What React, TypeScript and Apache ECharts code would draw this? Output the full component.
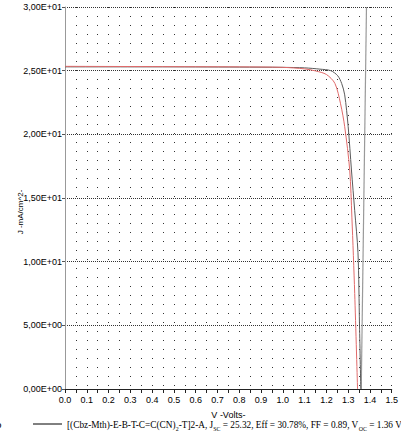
import React, { useEffect, useRef } from "react";
import * as echarts from "echarts";

const voltsRed: number[] = [0, 0.2, 0.4, 0.6, 0.8, 1.0, 1.1, 1.15, 1.2, 1.239, 1.265, 1.284, 1.307, 1.317, 1.33, 1.343];
const currentRed: number[] = [25.34, 25.33, 25.32, 25.31, 25.3, 25.26, 25.14, 24.98, 24.7, 24.0, 22.4, 20.6, 17.2, 13.5, 7.5, 0];

const voltsDark: number[] = [0, 0.4, 0.8, 1.0, 1.1, 1.17, 1.22, 1.252, 1.27, 1.284, 1.3, 1.315, 1.33, 1.345, 1.352, 1.358];
const currentDark: number[] = [25.3, 25.3, 25.28, 25.26, 25.22, 25.12, 25.0, 24.6, 24.0, 23.1, 20.6, 17.2, 14.0, 10.7, 5.0, 0];

const voltsGray: number[] = [1.36, 1.384];
const currentGray: number[] = [0, 30];

const yTicks: number[] = [0, 5, 10, 15, 20, 25, 30];

function sci(v: number): string {
  if (v === 0) return "0,00E+00";
  const e = Math.floor(Math.log10(Math.abs(v)) + 1e-9);
  const m = v / Math.pow(10, e);
  const es = (e < 0 ? "-" : "+") + String(Math.abs(e)).padStart(2, "0");
  return m.toFixed(2).replace(".", ",") + "E" + es;
}

const zip = (a: number[], b: number[]) => a.map((v, i) => [v, b[i]]);

export default function App() {
  const ref = useRef<HTMLDivElement>(null);
  useEffect(() => {
    if (!ref.current) return;
    const chart = echarts.init(ref.current, undefined, { renderer: "svg" });
    chart.setOption({
      animation: false,
      backgroundColor: "#fff",
      grid: { left: 65, right: 9, top: 7, bottom: 45, containLabel: false },
      xAxis: {
        type: "value",
        min: 0,
        max: 1.5,
        interval: 0.05,
        name: "V -Volts-",
        nameLocation: "middle",
        nameGap: 21,
        nameTextStyle: { fontFamily: "Liberation Sans", fontSize: 9, color: "#000" },
        axisLine: { show: true, lineStyle: { color: "#222", width: 1 } },
        axisTick: { show: true, length: 4, lineStyle: { color: "#222" } },
        axisLabel: {
          fontFamily: "Liberation Sans",
          fontSize: 9,
          color: "#000",
          margin: 6,
          formatter: (v: number) => {
            const k = Math.round(v / 0.05);
            return k % 2 === 0 ? (k * 0.05).toFixed(1) : "";
          },
        },
        splitLine: { show: true, lineStyle: { color: "#333", type: [1, 8], width: 1 } },
      },
      yAxis: {
        type: "value",
        min: yTicks[0],
        max: yTicks[yTicks.length - 1],
        interval: 5,
        axisLine: { show: true, lineStyle: { color: "#999", width: 1 } },
        axisTick: { show: true, length: 3, lineStyle: { color: "#555" } },
        axisLabel: {
          fontFamily: "Liberation Sans",
          fontSize: 9,
          color: "#000",
          margin: 3,
          formatter: (v: number) => sci(v),
        },
        splitLine: { show: true, lineStyle: { color: "#333", type: [1, 1], width: 1 } },
      },
      graphic: [
        {
          type: "text",
          x: 20,
          y: 212,
          rotation: Math.PI / 2,
          style: {
            text: "J -mA/cm^2-",
            fontFamily: "Liberation Sans",
            fontSize: 8,
            fill: "#000",
            align: "center",
            verticalAlign: "middle",
          },
        },
        {
          type: "line",
          shape: { x1: 33, y1: 424, x2: 62, y2: 424 },
          style: { stroke: "#000", lineWidth: 1 },
        },
        {
          type: "text",
          x: -4,
          y: 424,
          style: { text: "o", fontFamily: "Liberation Serif", fontSize: 11, fill: "#000", verticalAlign: "middle" },
        },
        {
          type: "text",
          x: 67,
          y: 424,
          scaleX: 0.845,
          style: {
            text:
              "{a|[(Cbz-Mth)-E-B-T-C=C(CN)}{s|2}{a|-T]2-A, J}{s|SC}{a| = 25.32, Eff = 30.78%, FF = 0.89, V}{s|OC}{a| = 1.36 V}",
            verticalAlign: "middle",
            rich: {
              a: { fontFamily: "Liberation Serif", fontSize: 11, fill: "#000", lineHeight: 16, verticalAlign: "middle" },
              s: { fontFamily: "Liberation Serif", fontSize: 7, fill: "#000", verticalAlign: "bottom" },
            },
          },
        },
      ],
      series: [
        {
          type: "line",
          data: zip(voltsDark, currentDark),
          showSymbol: false,
          smooth: 0.3,
          lineStyle: { color: "#5a5a5a", width: 1 },
          z: 3,
        },
        {
          type: "line",
          data: zip(voltsRed, currentRed),
          showSymbol: false,
          smooth: 0.3,
          lineStyle: { color: "#e06a6a", width: 1 },
          z: 4,
        },
        {
          type: "line",
          data: zip(voltsGray, currentGray),
          showSymbol: false,
          lineStyle: { color: "#9a9a9a", width: 1.2 },
          z: 2,
        },
      ],
    });
    return () => chart.dispose();
  }, []);
  return <div ref={ref} style={{ width: 401, height: 434, position: "absolute", left: 0, top: 0 }} />;
}
